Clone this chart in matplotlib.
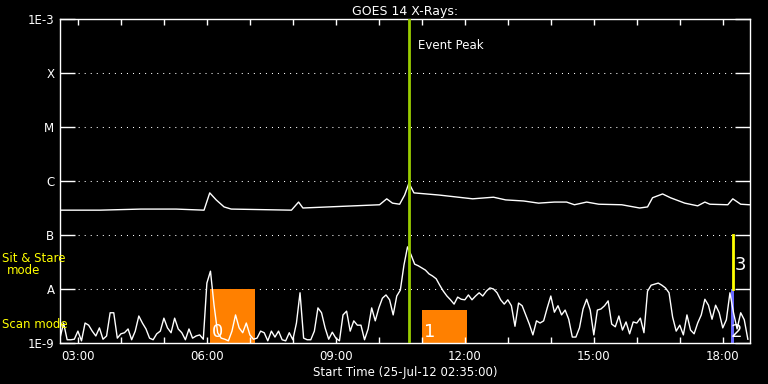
import numpy as np
import matplotlib.pyplot as plt

# GOES 14 X-ray flux, 25-Jul-2012 (W/m^2, log10)
start_hr = 2 + 35 / 60
end_hr = 18 + 38 / 60

# long channel (1-8 A), irregular readings
long_times = ["02:35", "03:31", "04:28", "05:17", "05:56", "06:04", "06:13", "06:24",
              "06:34", "07:58", "08:08", "08:14", "10:01", "10:11", "10:19", "10:29",
              "10:36", "10:42", "10:49", "11:24", "12:11", "12:40", "12:57", "13:22",
              "13:43", "14:05", "14:22", "14:33", "14:50", "15:07", "15:39", "16:04",
              "16:15", "16:22", "16:36", "16:47", "17:07", "17:25", "17:35", "17:42",
              "18:07", "18:14", "18:25", "18:37"]
long_log = [-6.54, -6.54, -6.52, -6.52, -6.54, -6.22, -6.35, -6.48,
            -6.52, -6.54, -6.39, -6.50, -6.44, -6.33, -6.41, -6.43,
            -6.26, -6.04, -6.22, -6.26, -6.33, -6.30, -6.35, -6.37,
            -6.41, -6.39, -6.39, -6.44, -6.39, -6.43, -6.44, -6.50,
            -6.48, -6.31, -6.24, -6.31, -6.41, -6.46, -6.39, -6.43,
            -6.44, -6.33, -6.43, -6.44]

# short channel (0.5-4 A), 5-minute cadence from 02:35
short_step_min = 5
short_log = [
    -8.91, -8.63, -8.94, -8.94, -8.93, -8.78, -8.96, -8.63, -8.67, -8.78,
    -8.87, -8.72, -8.93, -8.87, -8.44, -8.44, -8.91, -8.83, -8.81, -8.74,
    -8.94, -8.78, -8.50, -8.63, -8.74, -8.91, -8.94, -8.83, -8.78, -8.54,
    -8.72, -8.81, -8.54, -8.74, -8.81, -8.94, -8.74, -8.91, -8.87, -8.85,
    -8.93, -7.89, -7.67, -8.30, -8.81, -8.91, -8.93, -8.96, -8.78, -8.48,
    -8.72, -8.81, -8.63, -8.85, -8.93, -8.91, -8.78, -8.81, -8.96, -8.78,
    -8.89, -8.78, -8.94, -8.96, -8.81, -8.94, -8.63, -8.07, -8.91, -8.94,
    -8.94, -8.78, -8.35, -8.44, -8.72, -8.93, -8.80, -8.91, -8.96, -8.48,
    -8.41, -8.78, -8.59, -8.67, -8.67, -8.94, -8.74, -8.35, -8.59, -8.35,
    -8.17, -8.11, -8.20, -8.48, -8.13, -8.02, -7.56, -7.22, -7.37, -7.54,
    -7.57, -7.61, -7.65, -7.72, -7.76, -7.81, -7.93, -8.04, -8.13, -8.20,
    -8.28, -8.15, -8.19, -8.20, -8.11, -8.20, -8.13, -8.07, -8.13, -8.04,
    -7.98, -8.00, -8.07, -8.20, -8.28, -8.20, -8.31, -8.69, -8.26, -8.31,
    -8.48, -8.65, -8.85, -8.59, -8.63, -8.59, -8.35, -8.13, -8.43, -8.31,
    -8.48, -8.39, -8.56, -8.89, -8.89, -8.72, -8.37, -8.19, -8.39, -8.85,
    -8.39, -8.37, -8.31, -8.22, -8.65, -8.70, -8.50, -8.76, -8.61, -8.83,
    -8.61, -8.63, -8.54, -8.81, -8.04, -7.93, -7.91, -7.89, -7.93, -7.98,
    -8.07, -8.52, -8.78, -8.67, -8.85, -8.48, -8.76, -8.83, -8.63, -8.48,
    -8.19, -8.30, -8.56, -8.30, -8.44, -8.72, -8.57, -8.07, -8.44, -8.74,
    -8.44, -8.57, -8.93]

event_peak = "10:42"

# observation windows: (label, start, end, top flux)
scan_boxes = [("0", "06:04", "07:07", 1e-8), ("1", "11:00", "12:03", 4e-9)]
sit_stare_time = "18:14"

ytick_vals = [1e-9, 1e-8, 1e-7, 1e-6, 1e-5, 1e-4, 1e-3]
ytick_labels = ["1E-9", "A", "B", "C", "M", "X", "1E-3"]


def hours(s):
    h, m = s.split(":")
    return int(h) + int(m) / 60


long_t = [hours(s) for s in long_times]
short_t = start_hr + np.arange(len(short_log)) * short_step_min / 60

plt.rcParams['font.family'] = 'DejaVu Sans'
fig = plt.figure(figsize=(7.68, 3.84), dpi=100, facecolor='black')
ax = fig.add_axes([60 / 768, 41 / 384, 690 / 768, 324 / 384], facecolor='black')

for lab, t0, t1, top in scan_boxes:
    ax.fill_between([hours(t0), hours(t1)], 1e-9, top, color='#ff8000', lw=0, zorder=1)
    ax.text(hours(t0) + 0.04, 1.1e-9, lab, color='white', fontsize=13,
            ha='left', va='bottom', zorder=4)

ts = hours(sit_stare_time)
ax.fill_between([ts - 0.05, ts + 0.02], 1e-9, 1e-8, color='#6a6aff', lw=0, zorder=1)
ax.plot([ts, ts], [1e-8, 1e-7], color='yellow', lw=2, zorder=3)
ax.text(ts + 0.04, 2.8e-8, "3", color='white', fontsize=13, ha='left', va='center', zorder=4)
ax.text(ts - 0.04, 1.1e-9, "2", color='white', fontsize=13, ha='left', va='bottom', zorder=4)

for v in ytick_vals[1:-1]:
    ax.axhline(v, color='white', lw=0.75, ls=(0, (1, 4.8)), zorder=0)

ax.plot(long_t, 10 ** np.array(long_log), color='white', lw=1, zorder=2)
ax.plot(short_t, 10 ** np.array(short_log), color='white', lw=1, zorder=2)

ep = hours(event_peak)
ax.axvline(ep, color='#99cc00', lw=2, zorder=3)
ax.text(ep + 0.22, 3.2e-4, "Event Peak", color='white', fontsize=8.5, va='center')

ax.set_yscale('log')
ax.set_ylim(1e-9, 1e-3)
ax.set_xlim(start_hr, end_hr)
ax.set_yticks(ytick_vals)
ax.set_yticklabels(ytick_labels)
ax.yaxis.set_minor_locator(plt.NullLocator())
ax.tick_params(axis='y', which='major', direction='in', length=11, width=1,
               colors='white', left=True, right=True, labelsize=8.5, pad=4)

hrs = np.arange(3, 19)
ax.set_xticks(hrs)
ax.set_xticklabels([f"{h:02d}:00" if h % 3 == 0 else "" for h in hrs])
ax.tick_params(axis='x', direction='in', length=4, width=1, colors='white',
               top=True, bottom=True, labelsize=8.5, pad=5)

for sp in ax.spines.values():
    sp.set_color('white')
    sp.set_linewidth(1)

ax.set_title("GOES 14 X-Rays:", color='white', fontsize=9, pad=3)
ax.set_xlabel("Start Time (25-Jul-12 02:35:00)", color='white', fontsize=8.5, labelpad=2)

fig.text(2 / 768, 1 - 258 / 384, "Sit & Stare", color='yellow', fontsize=8.5,
         va='center', ha='left')
fig.text(24 / 768, 1 - 270 / 384, "mode", color='yellow', fontsize=8.5,
         va='center', ha='center')
fig.text(2 / 768, 1 - 324 / 384, "Scan mode", color='yellow', fontsize=8.5,
         va='center', ha='left')

fig.savefig("out.png", dpi=100, facecolor='black')
